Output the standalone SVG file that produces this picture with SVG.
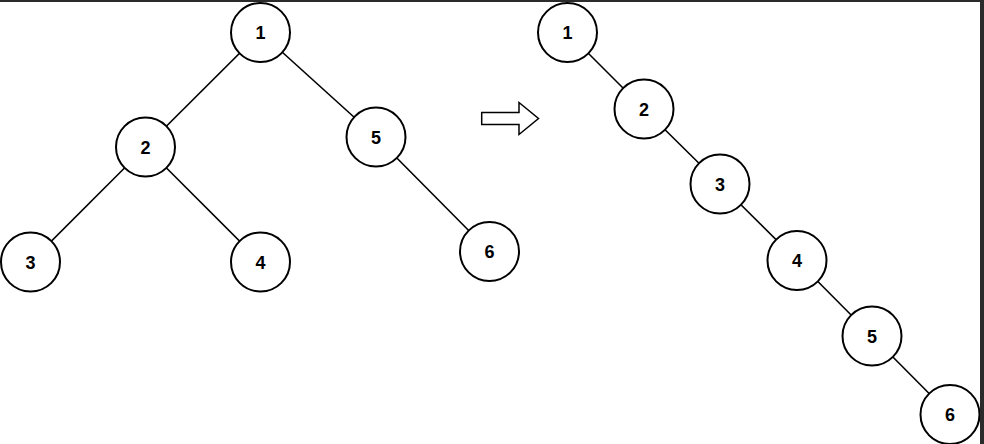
<svg xmlns="http://www.w3.org/2000/svg" width="984" height="444" viewBox="0 0 984 444">
<style>
.n circle{fill:#fff;stroke:#000;stroke-width:2}
.n text{font-family:"Liberation Sans",Arial,sans-serif;font-weight:bold;font-size:18px;text-anchor:middle;fill:#000}
.e line{stroke:#000;stroke-width:1.6}
</style>
<rect width="984" height="444" fill="#fff"/>
<g id="connectors" class="e">
<line x1="260.5" y1="32.5" x2="145.5" y2="147"/>
<line x1="260.5" y1="32.5" x2="376" y2="137"/>
<line x1="145.5" y1="147" x2="30.5" y2="262"/>
<line x1="145.5" y1="147" x2="260.5" y2="262"/>
<line x1="376" y1="137" x2="489.5" y2="251.5"/>
<line x1="567.5" y1="32.5" x2="644" y2="109"/>
<line x1="644" y1="109" x2="720" y2="184"/>
<line x1="720" y1="184" x2="797" y2="260.5"/>
<line x1="797" y1="260.5" x2="872" y2="336"/>
<line x1="872" y1="336" x2="950" y2="414.5"/>
</g>
<g id="L1" class="n"><circle cx="260.5" cy="32.5" r="29.5"/><text x="260.5" y="39">1</text></g>
<g id="L2" class="n"><circle cx="145.5" cy="147" r="29.5"/><text x="145.5" y="153.5">2</text></g>
<g id="L3" class="n"><circle cx="30.5" cy="262" r="29.5"/><text x="30.5" y="268.5">3</text></g>
<g id="L4" class="n"><circle cx="260.5" cy="262" r="29.5"/><text x="260.5" y="268.5">4</text></g>
<g id="L5" class="n"><circle cx="376" cy="137" r="29.5"/><text x="376" y="143.5">5</text></g>
<g id="L6" class="n"><circle cx="489.5" cy="251.5" r="29.5"/><text x="489.5" y="258">6</text></g>
<g id="arrow"><polygon points="481.7,112.5 519,112.5 519,102.5 538.5,118.5 519,134.5 519,124.5 481.7,124.5" fill="#fff" stroke="#000" stroke-width="1.5" stroke-linejoin="miter"/></g>
<g id="R1" class="n"><circle cx="567.5" cy="32.5" r="29.5"/><text x="567.5" y="39">1</text></g>
<g id="R2" class="n"><circle cx="644" cy="109" r="29.5"/><text x="644" y="115.5">2</text></g>
<g id="R3" class="n"><circle cx="720" cy="184" r="29.5"/><text x="720" y="190.5">3</text></g>
<g id="R4" class="n"><circle cx="797" cy="260.5" r="29.5"/><text x="797" y="267">4</text></g>
<g id="R5" class="n"><circle cx="872" cy="336" r="29.5"/><text x="872" y="342.5">5</text></g>
<g id="R6" class="n"><circle cx="950" cy="414.5" r="29.5"/><text x="950" y="421">6</text></g>
<rect x="0" y="0" width="984" height="2" fill="#2b2b2b"/>
<rect x="980" y="0" width="4" height="444" fill="#2b2b2b"/>
</svg>
